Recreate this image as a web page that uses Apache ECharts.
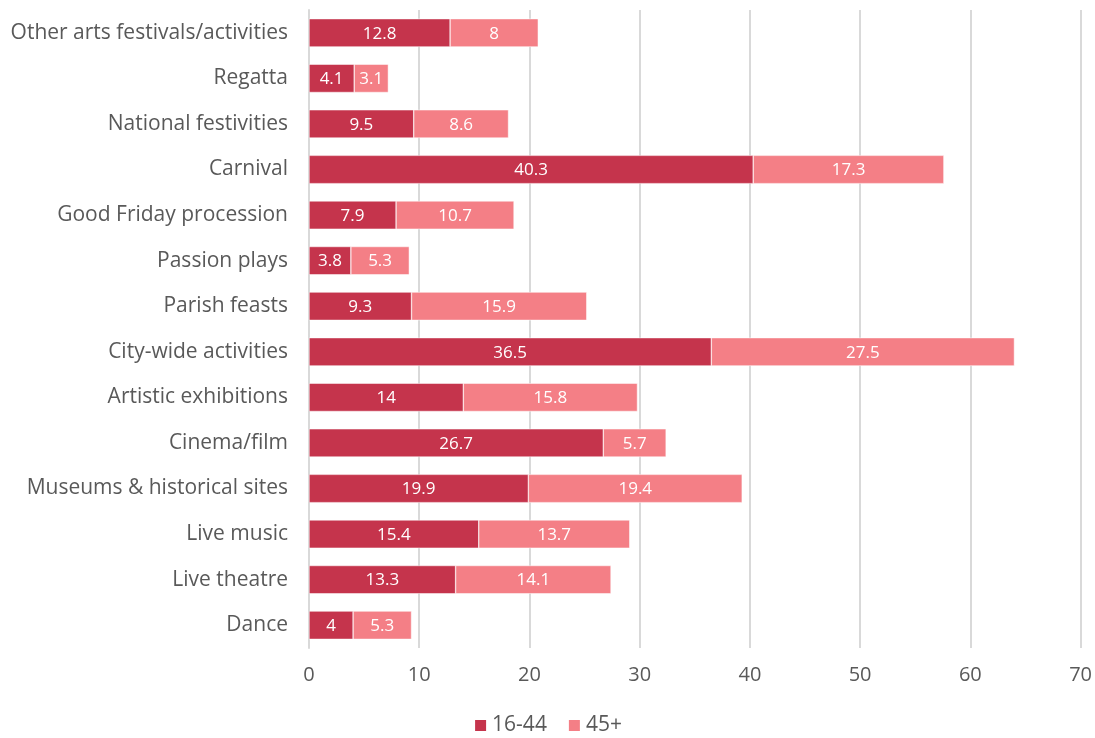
<!DOCTYPE html>
<html>
<head>
<meta charset="utf-8">
<script src="https://cdn.jsdelivr.net/npm/echarts@6/dist/echarts.min.js"></script>
<style>
  html, body { margin: 0; padding: 0; background: #fff; }
  #chart { width: 1095px; height: 738px; }
</style>
</head>
<body>
<div id="chart"></div>
<script>
// Participation by activity type, listed top to bottom
const categories = [
  'Other arts festivals/activities',
  'Regatta',
  'National festivities',
  'Carnival',
  'Good Friday procession',
  'Passion plays',
  'Parish feasts',
  'City-wide activities',
  'Artistic exhibitions',
  'Cinema/film',
  'Museums & historical sites',
  'Live music',
  'Live theatre',
  'Dance'
];
const age16to44 = [12.8, 4.1, 9.5, 40.3, 7.9, 3.8, 9.3, 36.5, 14, 26.7, 19.9, 15.4, 13.3, 4];
const age45plus = [8, 3.1, 8.6, 17.3, 10.7, 5.3, 15.9, 27.5, 15.8, 5.7, 19.4, 13.7, 14.1, 5.3];
const seriesNames = ['16-44', '45+'];

const fontFamily = '"Open Sans", Lato, sans-serif';
const textColor = '#595959';

const chart = echarts.init(document.getElementById('chart'));

const barLabel = {
  show: true,
  position: 'inside',
  offset: [0, 1],
  color: '#ffffff',
  fontSize: 17,
  fontFamily: fontFamily
};

chart.setOption({
  animation: false,
  grid: { left: 309, right: 14, top: 10, bottom: 90, containLabel: false },
  legend: {
    bottom: -3,
    left: 'center',
    itemWidth: 13,
    itemHeight: 13,
    itemGap: 20,
    icon: 'rect',
    textStyle: { color: textColor, fontSize: 21, fontFamily: fontFamily },
    data: seriesNames
  },
  xAxis: {
    type: 'value',
    min: 0,
    max: 70,
    interval: 10,
    axisLine: { show: false },
    axisTick: { show: false },
    splitLine: { show: true, lineStyle: { color: '#d9d9d9', width: 2 } },
    axisLabel: { color: textColor, fontSize: 20, fontFamily: fontFamily, margin: 17 }
  },
  yAxis: {
    type: 'category',
    data: categories,
    inverse: true,
    axisLine: { show: true, lineStyle: { color: '#d9d9d9', width: 2 } },
    axisTick: { show: false },
    axisLabel: {
      color: textColor,
      fontSize: 21,
      fontFamily: fontFamily,
      margin: 21,
      padding: [4, 0, 0, 0]
    }
  },
  series: [
    {
      name: seriesNames[0],
      type: 'bar',
      stack: 'total',
      data: age16to44,
      barWidth: '62%',
      itemStyle: { color: '#c5344c', borderColor: '#ffffff', borderWidth: 0.5 },
      label: barLabel
    },
    {
      name: seriesNames[1],
      type: 'bar',
      stack: 'total',
      data: age45plus,
      barWidth: '62%',
      itemStyle: { color: '#f47f86', borderColor: '#ffffff', borderWidth: 0.5 },
      label: barLabel
    }
  ]
});
</script>
</body>
</html>
